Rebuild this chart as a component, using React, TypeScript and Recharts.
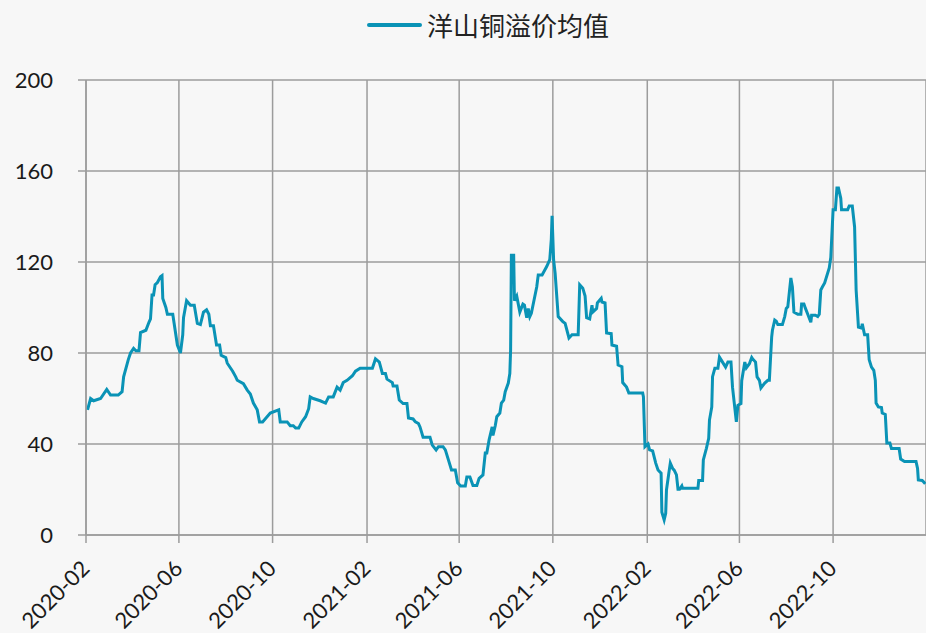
import React from 'react';
import { LineChart, Line, XAxis, YAxis, CartesianGrid, Legend } from 'recharts';

const SERIES_NAME = '洋山铜溢价均值';
const LINE_COLOR = '#0a93b6';
const GRID_COLOR = '#9c9c9c';

// trading dates (irregular, only turning points)
const dates = [
  '2020-02-03', '2020-02-07', '2020-02-11', '2020-02-20', '2020-02-28', '2020-03-04', '2020-03-14', '2020-03-19',
  '2020-03-21', '2020-03-27', '2020-03-30', '2020-04-03', '2020-04-06', '2020-04-10', '2020-04-12', '2020-04-19',
  '2020-04-23', '2020-04-25', '2020-04-27', '2020-04-29', '2020-05-01', '2020-05-04', '2020-05-08', '2020-05-10',
  '2020-05-11', '2020-05-15', '2020-05-17', '2020-05-24', '2020-05-30', '2020-06-03', '2020-06-06', '2020-06-07',
  '2020-06-11', '2020-06-16', '2020-06-21', '2020-06-25', '2020-06-29', '2020-07-03', '2020-07-07', '2020-07-10',
  '2020-07-12', '2020-07-16', '2020-07-20', '2020-07-24', '2020-07-26', '2020-08-01', '2020-08-03', '2020-08-10',
  '2020-08-14', '2020-08-16', '2020-08-24', '2020-08-29', '2020-09-02', '2020-09-06', '2020-09-11', '2020-09-14',
  '2020-09-18', '2020-09-28', '2020-10-09', '2020-10-11', '2020-10-20', '2020-10-24', '2020-10-28', '2020-10-31',
  '2020-11-04', '2020-11-08', '2020-11-13', '2020-11-17', '2020-11-19', '2020-11-23', '2020-12-02', '2020-12-09',
  '2020-12-13', '2020-12-19', '2020-12-24', '2020-12-28', '2021-01-01', '2021-01-06', '2021-01-13', '2021-01-17',
  '2021-01-23', '2021-02-08', '2021-02-12', '2021-02-17', '2021-02-21', '2021-02-25', '2021-02-27', '2021-03-06',
  '2021-03-07', '2021-03-12', '2021-03-15', '2021-03-20', '2021-03-25', '2021-03-27', '2021-04-02', '2021-04-05',
  '2021-04-09', '2021-04-11', '2021-04-15', '2021-04-24', '2021-04-27', '2021-05-02', '2021-05-05', '2021-05-11',
  '2021-05-14', '2021-05-18', '2021-05-22', '2021-05-27', '2021-05-30', '2021-06-03', '2021-06-09', '2021-06-11',
  '2021-06-15', '2021-06-19', '2021-06-24', '2021-06-27', '2021-07-02', '2021-07-05', '2021-07-07', '2021-07-10',
  '2021-07-14', '2021-07-15', '2021-07-18', '2021-07-20', '2021-07-24', '2021-07-26', '2021-07-29', '2021-07-31',
  '2021-08-04', '2021-08-06', '2021-08-07', '2021-08-08', '2021-08-11', '2021-08-12', '2021-08-15', '2021-08-19',
  '2021-08-23', '2021-08-25', '2021-08-28', '2021-08-30', '2021-09-01', '2021-09-03', '2021-09-10', '2021-09-12',
  '2021-09-17', '2021-09-23', '2021-09-27', '2021-09-29', '2021-09-30', '2021-10-02', '2021-10-04', '2021-10-08',
  '2021-10-14', '2021-10-17', '2021-10-22', '2021-10-26', '2021-11-03', '2021-11-05', '2021-11-09', '2021-11-12',
  '2021-11-14', '2021-11-18', '2021-11-21', '2021-11-22', '2021-11-27', '2021-11-28', '2021-12-03', '2021-12-04',
  '2021-12-08', '2021-12-10', '2021-12-16', '2021-12-17', '2021-12-23', '2021-12-25', '2021-12-30', '2021-12-31',
  '2022-01-05', '2022-01-08', '2022-01-26', '2022-01-27', '2022-01-29', '2022-02-02', '2022-02-04', '2022-02-08',
  '2022-02-12', '2022-02-15', '2022-02-19', '2022-02-20', '2022-02-23', '2022-02-25', '2022-02-26', '2022-03-01',
  '2022-03-03', '2022-03-06', '2022-03-08', '2022-03-11', '2022-03-13', '2022-03-15', '2022-03-18', '2022-03-19',
  '2022-04-08', '2022-04-09', '2022-04-14', '2022-04-15', '2022-04-19', '2022-04-22', '2022-04-23', '2022-04-26',
  '2022-04-27', '2022-04-30', '2022-05-04', '2022-05-06', '2022-05-10', '2022-05-14', '2022-05-17', '2022-05-21',
  '2022-05-23', '2022-05-28', '2022-05-30', '2022-06-03', '2022-06-04', '2022-06-08', '2022-06-10', '2022-06-14',
  '2022-06-17', '2022-06-18', '2022-06-22', '2022-06-24', '2022-06-27', '2022-06-29', '2022-07-04', '2022-07-08',
  '2022-07-10', '2022-07-13', '2022-07-14', '2022-07-17', '2022-07-19', '2022-07-21', '2022-07-27', '2022-07-30',
  '2022-08-01', '2022-08-03', '2022-08-07', '2022-08-09', '2022-08-11', '2022-08-16', '2022-08-20', '2022-08-21',
  '2022-08-24', '2022-08-26', '2022-08-29', '2022-09-02', '2022-09-03', '2022-09-08', '2022-09-11', '2022-09-13',
  '2022-09-15', '2022-09-17', '2022-09-20', '2022-09-26', '2022-09-28', '2022-10-01', '2022-10-04', '2022-10-06',
  '2022-10-08', '2022-10-11', '2022-10-12', '2022-10-20', '2022-10-22', '2022-10-26', '2022-10-29', '2022-10-31',
  '2022-11-03', '2022-11-07', '2022-11-08', '2022-11-11', '2022-11-15', '2022-11-17', '2022-11-20', '2022-11-23',
  '2022-11-25', '2022-11-26', '2022-11-29', '2022-12-03', '2022-12-04', '2022-12-08', '2022-12-10', '2022-12-14',
  '2022-12-16', '2022-12-26', '2022-12-28', '2023-01-02', '2023-01-17', '2023-01-19', '2023-01-20', '2023-01-25',
  '2023-01-27', '2023-01-29',
];

// 洋山铜溢价均值, same order as dates
const premium = [
  55, 60, 59, 60, 64, 61.5, 61.5, 63,
  69.5, 77, 80, 82, 81, 81, 89, 90,
  93.5, 95, 105.5, 105.5, 110, 111, 113.5, 114,
  104, 100, 97, 97, 83.5, 80, 88, 95.5,
  103, 101, 101, 93, 92.5, 98, 99, 97,
  92, 92, 83.5, 83.5, 79, 78, 75.5, 72,
  69.5, 68, 66.5, 63.7, 62, 58, 55, 49.7,
  49.7, 53.6, 55, 49.7, 49.7, 48, 48, 47,
  47, 49.7, 52, 55.5, 60.7, 60, 59, 58,
  60.7, 60.7, 65, 63.7, 67, 68, 70, 72,
  73.3, 73.3, 77.4, 76, 71, 71, 68.5, 67,
  65.5, 65.5, 59.3, 57.8, 57.8, 51.4, 51, 49.7,
  49, 47.5, 43, 43, 39.5, 37.4, 38.8, 38.8,
  37.4, 33, 28.6, 28.6, 22.9, 21.5, 21.5, 25.5,
  25.5, 21.8, 21.8, 24.9, 26.4, 36, 36, 41.8,
  47.5, 43.8, 48, 52, 53.6, 58, 59.3, 63,
  66.8, 71, 81.3, 123, 123, 103, 105, 98,
  101.5, 101, 95.5, 99.6, 96, 97.5, 109, 114.3,
  114.3, 118, 121, 130, 140.3, 121, 115, 96,
  93.8, 93, 86.6, 88, 88, 110, 108.5, 105,
  95.5, 95, 101, 98, 99.6, 102, 104, 102.4,
  102, 88.8, 88.5, 83.5, 83, 74.7, 74, 67,
  65, 62.4, 62.4, 60.7, 38.8, 40, 37.4, 37,
  31.6, 28.6, 27.2, 10, 6.6, 9.5, 19.8, 27,
  31.6, 29.3, 28.5, 26.4, 20.1, 20.1, 21.6, 20.5,
  20.5, 24, 24, 33, 38.1, 42.5, 50.5, 56.3,
  69.6, 73.3, 73.3, 78.2, 76, 73.8, 76, 76,
  65, 49.7, 57, 57.8, 67.8, 76, 73.5, 75.3,
  78, 77.5, 76, 69.5, 68, 64.6, 66.8, 68,
  68, 87, 90, 94.5, 94, 92.5, 92.5, 96,
  99.6, 100.3, 113, 109, 98, 97, 97, 101.5,
  101.5, 99.6, 97, 93.5, 96.6, 96.6, 96, 97,
  107.7, 109, 110.8, 117.4, 122, 143, 143, 152.5,
  152.5, 148, 143, 143, 144.6, 144.6, 135.4, 107.7,
  91.4, 91, 92.8, 88, 88, 77, 73.8, 72.4,
  68, 58, 56.3, 56, 53.6, 53, 40.4, 40.4,
  38, 38, 33.4, 32.3, 32.3, 29.3, 24.2, 24,
  23.3, 22.5,
];

const xTicks = ['2020-02-01', '2020-06-01', '2020-10-01', '2021-02-01', '2021-06-01', '2021-10-01', '2022-02-01', '2022-06-01', '2022-10-01'];
const yTicks = [0, 40, 80, 120, 160, 200];
const xStart = '2020-02-01';
const xEnd = '2023-01-30';

const data = dates.map((d, i) => ({ date: Date.parse(d), value: premium[i] }));

function formatMonth(t: number) {
  const d = new Date(t);
  return `${d.getUTCFullYear()}-${String(d.getUTCMonth() + 1).padStart(2, '0')}`;
}

function DateTick({ x, y, payload }: any) {
  const tx = x + 5;
  const ty = y + 27;
  return (
    <text
      x={tx}
      y={ty}
      transform={`rotate(-45, ${tx}, ${ty})`}
      textAnchor="end"
      fontSize={22}
      fontFamily="Lato, 'Open Sans', sans-serif"
      fill="#1a1a1a"
    >
      {formatMonth(payload.value)}
    </text>
  );
}

function renderLegend() {
  return (
    <div style={{ display: 'flex', alignItems: 'center', fontFamily: "'Noto Sans CJK SC', sans-serif", fontSize: 26, color: '#222', lineHeight: '36px' }}>
      <span style={{ display: 'inline-block', width: 55, height: 4, borderRadius: 2, background: LINE_COLOR, marginRight: 5 }} />
      <span>{SERIES_NAME}</span>
    </div>
  );
}

export default function App() {
  return (
    <div style={{ position: 'absolute', left: 0, top: 0, width: 926, height: 633, background: '#f7f7f7' }}>
      <LineChart width={926} height={633} data={data} margin={{ top: 80, right: 0, bottom: 0, left: 0 }}>
        <CartesianGrid stroke={GRID_COLOR} strokeWidth={1.5} />
        <XAxis
          dataKey="date"
          type="number"
          scale="time"
          domain={[Date.parse(xStart), Date.parse(xEnd)]}
          ticks={xTicks.map((t) => Date.parse(t))}
          tick={<DateTick />}
          tickSize={8}
          tickMargin={0}
          height={98}
          interval={0}
          stroke={GRID_COLOR}
          strokeWidth={1.5}
          allowDataOverflow
        />
        <YAxis
          domain={[0, 200]}
          ticks={yTicks}
          width={86}
          tickSize={8}
          tickMargin={25}
          interval={0}
          stroke={GRID_COLOR}
          strokeWidth={1.5}
          tick={{ fontSize: 22, fontFamily: "Lato, 'Open Sans', sans-serif", fill: '#1a1a1a' }}
        />
        <Legend
          layout="horizontal"
          verticalAlign="middle"
          align="center"
          wrapperStyle={{ top: 7, left: 367, width: 320, height: 36 }}
          content={renderLegend}
        />
        <Line
          type="linear"
          dataKey="value"
          name={SERIES_NAME}
          stroke={LINE_COLOR}
          strokeWidth={3}
          dot={false}
          isAnimationActive={false}
        />
      </LineChart>
    </div>
  );
}
